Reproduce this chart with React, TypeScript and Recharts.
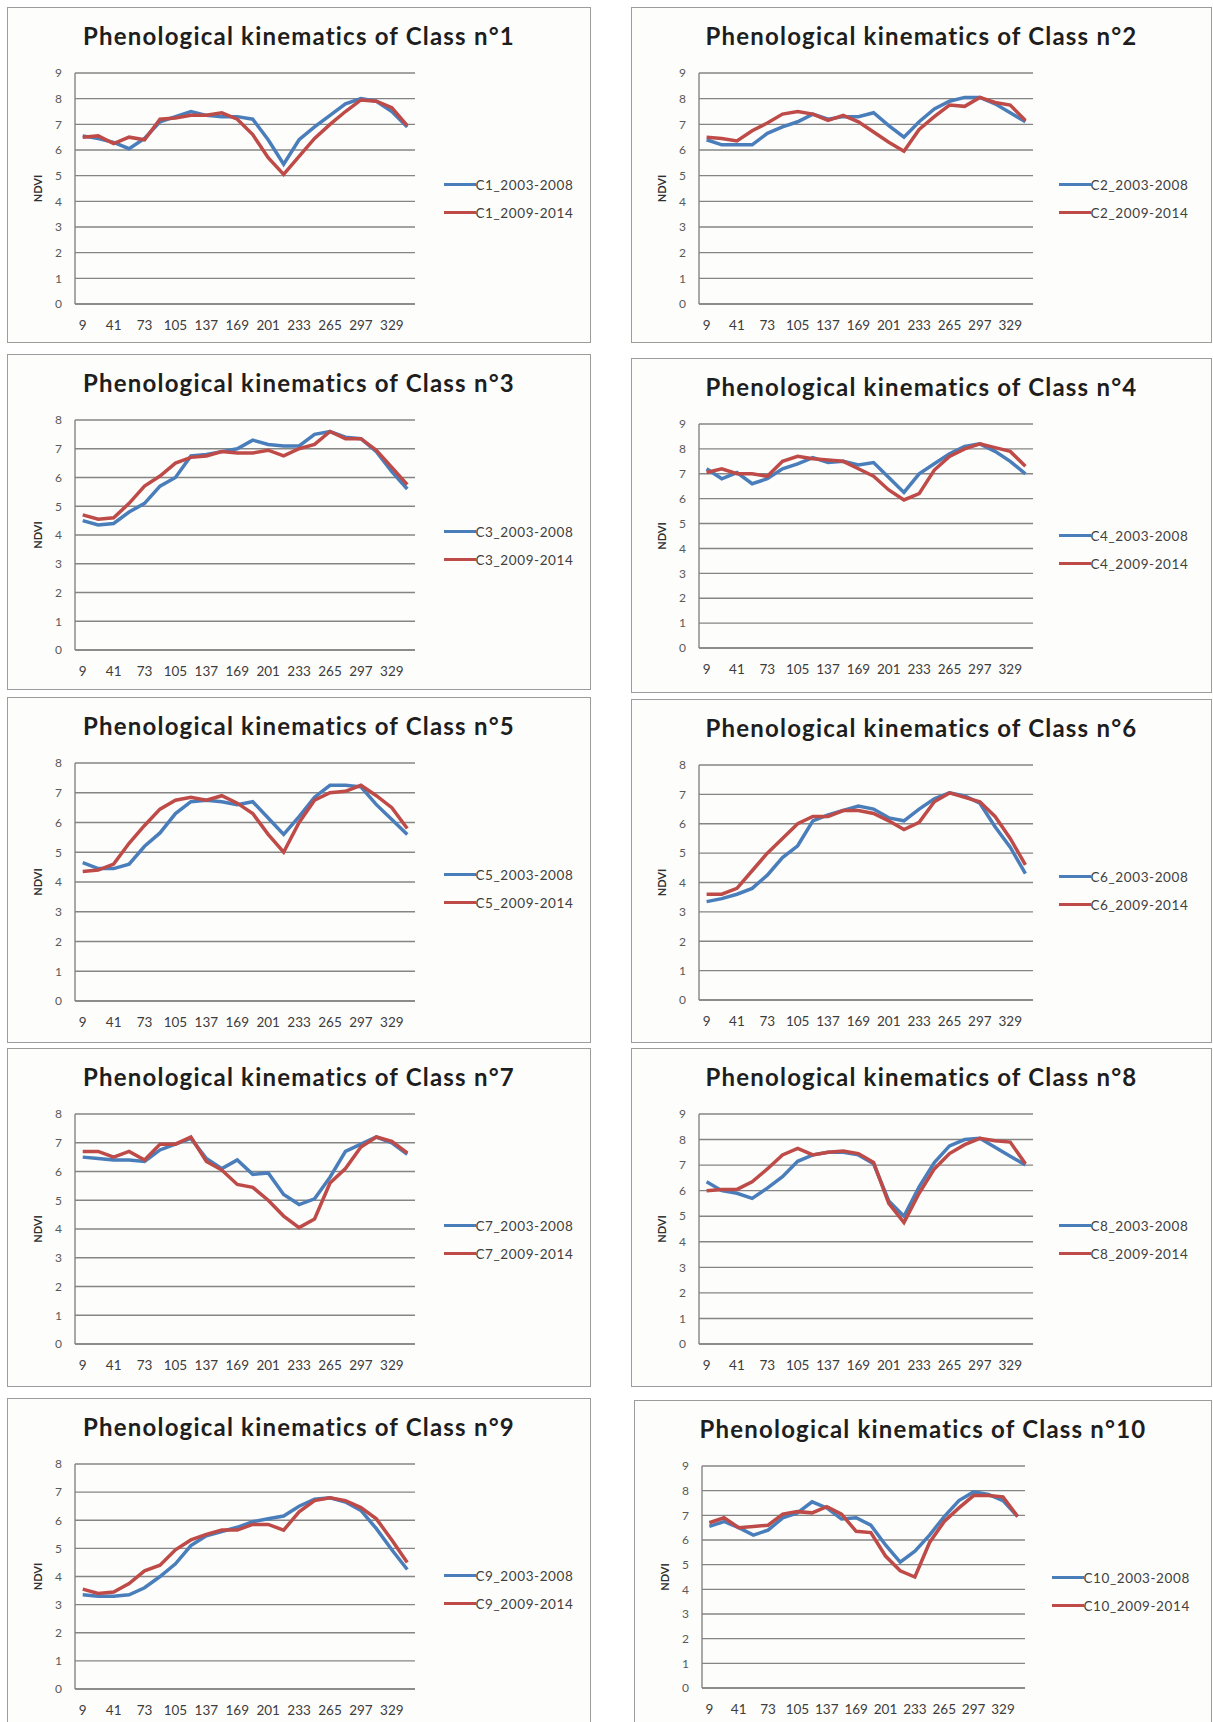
import { LineChart, Line, XAxis, YAxis, CartesianGrid, Legend } from "recharts"

// day of year of each 16-day composite
const days = [9, 25, 41, 57, 73, 89, 105, 121, 137, 153, 169, 185, 201, 217, 233, 249, 265, 281, 297, 313, 329, 345]

const periods = ["2003-2008", "2009-2014"]

// mean NDVI (x10) per class and period
const c1a = [6.55, 6.45, 6.3, 6.05, 6.45, 7.1, 7.3, 7.5, 7.35, 7.3, 7.3, 7.2, 6.4, 5.45, 6.4, 6.9, 7.35, 7.8, 8.0, 7.9, 7.5, 6.9]
const c1b = [6.5, 6.55, 6.25, 6.5, 6.4, 7.2, 7.25, 7.35, 7.35, 7.45, 7.2, 6.6, 5.7, 5.05, 5.75, 6.45, 7.0, 7.5, 7.95, 7.9, 7.65, 6.95]

const c2a = [6.4, 6.2, 6.2, 6.2, 6.65, 6.9, 7.1, 7.4, 7.2, 7.3, 7.3, 7.45, 6.95, 6.5, 7.1, 7.6, 7.9, 8.05, 8.05, 7.8, 7.45, 7.1]
const c2b = [6.5, 6.45, 6.35, 6.75, 7.05, 7.4, 7.5, 7.4, 7.15, 7.35, 7.1, 6.7, 6.3, 5.95, 6.8, 7.3, 7.75, 7.7, 8.05, 7.85, 7.75, 7.15]

const c3a = [4.5, 4.35, 4.4, 4.8, 5.1, 5.7, 6.0, 6.75, 6.8, 6.9, 7.0, 7.3, 7.15, 7.1, 7.1, 7.5, 7.6, 7.4, 7.35, 6.9, 6.2, 5.6]
const c3b = [4.7, 4.55, 4.6, 5.1, 5.7, 6.05, 6.5, 6.7, 6.75, 6.9, 6.85, 6.85, 6.95, 6.75, 7.0, 7.15, 7.6, 7.35, 7.35, 6.95, 6.35, 5.75]

const c4a = [7.2, 6.8, 7.05, 6.6, 6.8, 7.2, 7.4, 7.65, 7.45, 7.5, 7.35, 7.45, 6.85, 6.25, 7.0, 7.4, 7.8, 8.1, 8.2, 7.9, 7.5, 7.0]
const c4b = [7.05, 7.2, 7.0, 7.0, 6.9, 7.5, 7.7, 7.6, 7.55, 7.5, 7.2, 6.9, 6.35, 5.95, 6.2, 7.15, 7.7, 8.0, 8.2, 8.05, 7.9, 7.3]

const c5a = [4.65, 4.45, 4.45, 4.6, 5.2, 5.65, 6.3, 6.7, 6.75, 6.7, 6.6, 6.7, 6.15, 5.6, 6.2, 6.85, 7.25, 7.25, 7.2, 6.6, 6.1, 5.6]
const c5b = [4.35, 4.4, 4.6, 5.3, 5.9, 6.45, 6.75, 6.85, 6.75, 6.9, 6.65, 6.3, 5.6, 5.0, 6.0, 6.75, 7.0, 7.05, 7.25, 6.9, 6.5, 5.8]

const c6a = [3.35, 3.45, 3.6, 3.8, 4.25, 4.85, 5.25, 6.1, 6.3, 6.45, 6.6, 6.5, 6.2, 6.1, 6.5, 6.85, 7.05, 6.95, 6.7, 5.9, 5.2, 4.3]
const c6b = [3.6, 3.6, 3.8, 4.4, 5.0, 5.5, 6.0, 6.25, 6.25, 6.45, 6.45, 6.35, 6.1, 5.8, 6.05, 6.75, 7.05, 6.9, 6.75, 6.25, 5.5, 4.6]

const c7a = [6.5, 6.45, 6.4, 6.4, 6.35, 6.75, 6.95, 7.15, 6.45, 6.1, 6.4, 5.9, 5.95, 5.2, 4.85, 5.05, 5.8, 6.7, 6.95, 7.2, 7.0, 6.6]
const c7b = [6.7, 6.7, 6.5, 6.7, 6.4, 6.95, 6.95, 7.2, 6.35, 6.05, 5.55, 5.45, 5.0, 4.45, 4.05, 4.35, 5.6, 6.1, 6.85, 7.2, 7.05, 6.65]

const c8a = [6.35, 6.0, 5.9, 5.7, 6.1, 6.55, 7.15, 7.4, 7.5, 7.5, 7.4, 7.05, 5.6, 5.0, 6.15, 7.1, 7.75, 8.0, 8.05, 7.7, 7.35, 7.0]
const c8b = [6.0, 6.05, 6.05, 6.35, 6.85, 7.4, 7.65, 7.4, 7.5, 7.55, 7.45, 7.1, 5.5, 4.75, 5.9, 6.85, 7.45, 7.8, 8.05, 7.95, 7.9, 7.05]

const c9a = [3.35, 3.3, 3.3, 3.35, 3.6, 4.0, 4.45, 5.1, 5.45, 5.6, 5.75, 5.95, 6.05, 6.15, 6.5, 6.75, 6.8, 6.65, 6.35, 5.7, 4.95, 4.25]
const c9b = [3.55, 3.4, 3.45, 3.75, 4.2, 4.4, 4.95, 5.3, 5.5, 5.65, 5.65, 5.85, 5.85, 5.65, 6.3, 6.7, 6.8, 6.7, 6.45, 6.05, 5.3, 4.5]

const c10a = [6.55, 6.75, 6.5, 6.2, 6.4, 6.9, 7.1, 7.55, 7.3, 6.85, 6.9, 6.6, 5.8, 5.1, 5.55, 6.2, 6.95, 7.6, 7.95, 7.85, 7.6, 6.95]
const c10b = [6.7, 6.9, 6.5, 6.55, 6.6, 7.05, 7.15, 7.1, 7.35, 7.05, 6.35, 6.3, 5.35, 4.75, 4.5, 5.9, 6.75, 7.3, 7.8, 7.8, 7.75, 6.95]

const classSeries = [
  [c1a, c1b], [c2a, c2b], [c3a, c3b], [c4a, c4b], [c5a, c5b],
  [c6a, c6b], [c7a, c7b], [c8a, c8b], [c9a, c9b], [c10a, c10b],
]

const yMax = [9, 9, 8, 9, 8, 8, 8, 9, 8, 9]

// panel frames: left, top, width, height, plot right, plot bottom, legend left
const boxes = [
  [7, 7, 584, 336, 408, 297, 437],
  [631, 7, 581, 336, 402, 297, 428],
  [7, 354, 584, 336, 408, 296, 437],
  [631, 358, 581, 335, 402, 290, 428],
  [7, 697, 584, 346, 408, 304, 437],
  [631, 699, 581, 344, 402, 301, 428],
  [7, 1048, 584, 339, 408, 296, 437],
  [631, 1048, 581, 339, 402, 296, 428],
  [7, 1398, 584, 330, 408, 291, 437],
  [634, 1400, 578, 330, 391, 288, 418],
]

const BLUE = "#4a7ebb"
const RED = "#be4b48"
const FONT = "Lato, 'Open Sans', sans-serif"

function LegendBox({ payload }: any) {
  return (
    <div style={{ fontFamily: FONT }}>
      {(payload || []).map((p: any) => (
        <div key={p.value} style={{ display: "flex", alignItems: "center", height: 28 }}>
          <span style={{ display: "inline-block", width: 32, height: 3.5, background: p.color }} />
          <span style={{ fontSize: 13.5, letterSpacing: 0.6, color: "#404040", whiteSpace: "nowrap" }}>
            {p.value}
          </span>
        </div>
      ))}
    </div>
  )
}

function Panel({ idx }: { idx: number }) {
  const [left, top, w, h, plotRight, plotBottom, legendLeft] = boxes[idx]
  const [early, late] = classSeries[idx]
  const n = idx + 1
  const data = days.map((d, i) => ({ day: d, early: early[i], late: late[i] }))
  const ticks = Array.from({ length: yMax[idx] + 1 }, (_, i) => i)
  const xAxisH = 30
  return (
    <div
      style={{
        position: "absolute", left, top, width: w, height: h, boxSizing: "border-box",
        border: "1.5px solid #9c9c9c", background: "#fdfdfb",
      }}
    >
      <LineChart
        width={w}
        height={h}
        data={data}
        margin={{ top: 66, right: w - plotRight, left: 28, bottom: h - plotBottom - xAxisH }}
        style={{ position: "absolute", left: -1.5, top: -1.5 }}
      >
        <CartesianGrid vertical={false} stroke="#858585" strokeWidth={1.4} />
        <XAxis
          dataKey="day"
          scale="band"
          interval={1}
          height={xAxisH}
          axisLine={{ stroke: "#858585", strokeWidth: 1.4 }}
          tickLine={false}
          tickMargin={10}
          tick={{ fontSize: 13.5, fill: "#3c3c3c", fontFamily: FONT }}
        />
        <YAxis
          width={40}
          domain={[0, yMax[idx]]}
          ticks={ticks}
          interval={0}
          axisLine={{ stroke: "#858585", strokeWidth: 1.4 }}
          tickLine={false}
          tickMargin={7}
          tick={{ fontSize: 12, fill: "#595959", fontFamily: FONT }}
          label={{
            value: "NDVI", angle: -90, position: "insideLeft", offset: 3,
            style: { textAnchor: "middle", fontSize: 11, fontWeight: 700, fill: "#303030", fontFamily: FONT },
          }}
        />
        <Legend
          layout="vertical"
          align="center"
          verticalAlign="middle"
          content={<LegendBox />}
          wrapperStyle={{ left: legendLeft, top: 164, width: 160 }}
        />
        <Line
          type="linear"
          dataKey="early"
          name={`C${n}_${periods[0]}`}
          stroke={BLUE}
          strokeWidth={3.5}
          dot={false}
          isAnimationActive={false}
        />
        <Line
          type="linear"
          dataKey="late"
          name={`C${n}_${periods[1]}`}
          stroke={RED}
          strokeWidth={3.5}
          dot={false}
          isAnimationActive={false}
        />
      </LineChart>
      <div
        style={{
          position: "absolute", left: 0, right: 0, top: 12, textAlign: "center",
          fontFamily: FONT, fontWeight: 700, fontSize: 24, letterSpacing: 1.2,
          color: "#1e1e1e", lineHeight: "32px", whiteSpace: "nowrap",
        }}
      >
        Phenological kinematics of Class n°{n}
      </div>
    </div>
  )
}

export default function App() {
  return (
    <div
      style={{
        position: "absolute", left: 0, top: 0, width: 1213, height: 1722,
        overflow: "hidden", background: "#ffffff",
      }}
    >
      {boxes.map((_, i) => (
        <Panel key={i} idx={i} />
      ))}
    </div>
  )
}
